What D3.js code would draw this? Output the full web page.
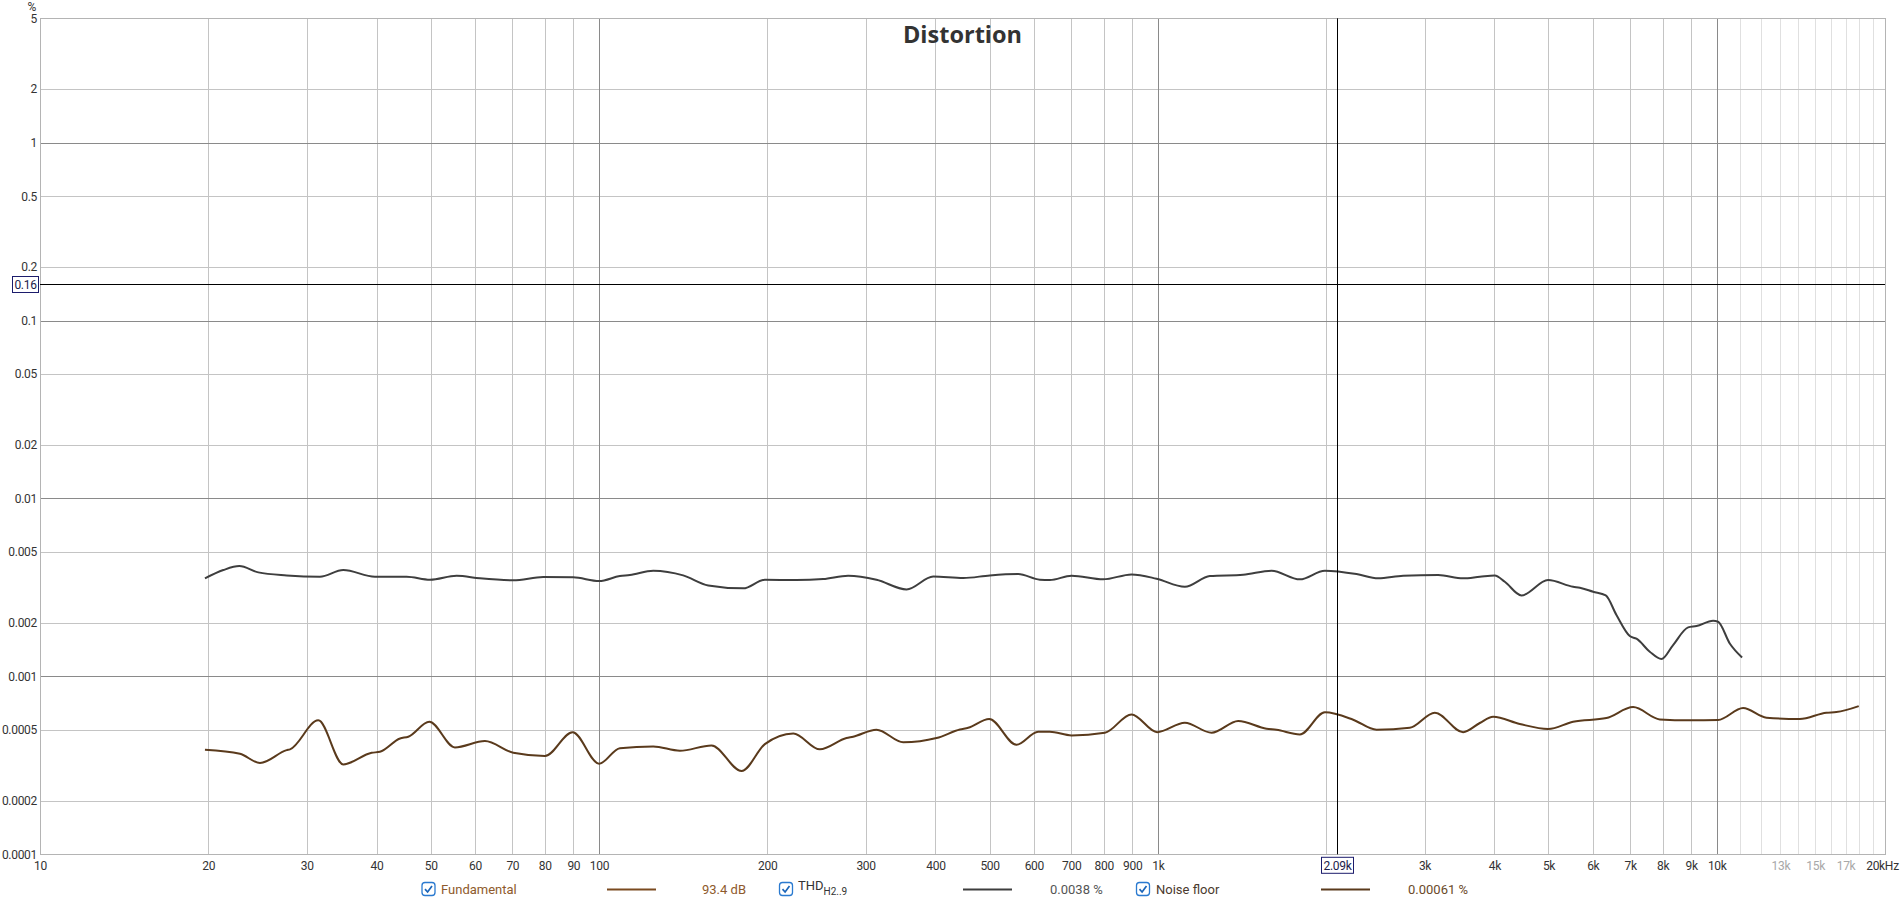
<!DOCTYPE html>
<html>
<head>
<meta charset="utf-8">
<script src="https://cdn.jsdelivr.net/npm/d3@7"></script>
<style>
  html, body { margin: 0; padding: 0; background: #ffffff; }
  svg { display: block; }
  .tick text { font-family: "Roboto", sans-serif; letter-spacing: -0.3px; }
</style>
</head>
<body>
<svg id="chart" width="1904" height="901"></svg>
<script>
// ---------------- DATA ----------------
const chartTitle = "Distortion";
const yUnit = "%";

const thdFreq = [19.73, 21.28, 22.73, 24.58, 27.63, 31.68, 34.88, 39.75, 45.29, 49.86, 55.64, 61.26, 70.27, 79.51, 89.97, 100.1,
  109.0, 113.6, 125.1, 141.5, 156.9, 181.2, 198.1, 225.7, 251.9, 279.2, 313.8, 355.2, 396.4, 448.6, 500.6, 562.5, 615.0,
  641, 700.9, 798.6, 897.2, 994.7, 1117.7, 1239.2, 1421.4, 1597.6, 1795.1, 1990.1, 2267.1, 2479.5, 2747.5, 3173.5, 3517.4, 3767.8,
  4007, 4176, 4472, 4991.5, 5533, 5689, 6010, 6330, 6615, 6988, 7184, 7589, 7963, 8354, 8888, 9199, 9850, 10055, 10551, 11100];
const thdVal = [0.003556, 0.003960, 0.004170, 0.003842, 0.003696, 0.003633, 0.003960, 0.003633, 0.003633, 0.003495, 0.003680, 0.003556, 0.003465, 0.003617, 0.003602, 0.003435,
  0.003665, 0.003711, 0.003926, 0.003696, 0.003247, 0.003124, 0.003495, 0.003479, 0.003525, 0.003680, 0.003495, 0.003083, 0.003640, 0.003570, 0.003696, 0.003759, 0.003495,
  0.003479, 0.003680, 0.003510, 0.003743, 0.003540, 0.003191, 0.003665, 0.003727, 0.003926, 0.003510, 0.003926, 0.003759, 0.003556, 0.003680, 0.003711, 0.003556, 0.003633,
  0.003696, 0.003405, 0.002852, 0.003479, 0.003191, 0.003151, 0.002992, 0.002852, 0.002212, 0.001685, 0.001628, 0.001376, 0.001251, 0.001500, 0.001885, 0.001918, 0.002055, 0.002029, 0.001532, 0.001278];

const noiseFreq = [19.73, 22.79, 24.75, 27.63, 28.01, 31.47, 34.88, 39.21, 40.57, 44.07, 45.60, 49.72, 55.25, 62.53, 70.27, 80.06, 89.72, 100.1,
  109.0, 125.1, 139.6, 159.0, 180.0, 198.1, 222.7, 248.5, 277.3, 285.0, 313.8, 350.4, 401.9, 442.5, 457.8, 499.2, 558.6, 610.8, 640.9,
  700.9, 804.1, 897.2, 997.3, 1117.7, 1247.8, 1392.4, 1565.1, 1630.4, 1795.1, 1990.1, 2236.2, 2462.5, 2824, 3130.2, 3517.4, 3767.8,
  3980, 4442, 4991.5, 5533, 6347, 7085, 7908, 8950, 10055, 11146, 12275, 14077, 15712, 16372, 17950];
const noiseVal = [0.000387, 0.000367, 0.000326, 0.000385, 0.000389, 0.000566, 0.000320, 0.000372, 0.000377, 0.000448, 0.000458, 0.000556, 0.000399, 0.000433, 0.000372, 0.000357, 0.000486, 0.000323,
  0.000395, 0.000404, 0.000382, 0.000409, 0.000294, 0.000416, 0.000478, 0.000389, 0.000450, 0.000458, 0.000501, 0.000426, 0.000450, 0.000503, 0.000514, 0.000576, 0.000413, 0.000489, 0.000489,
  0.000466, 0.000482, 0.000611, 0.000486, 0.000549, 0.000482, 0.000561, 0.000508, 0.000501, 0.000472, 0.000628, 0.000571, 0.000501, 0.000514, 0.000625, 0.000486, 0.000547,
  0.000593, 0.000540, 0.000506, 0.000556, 0.000583, 0.000672, 0.000573, 0.000566, 0.000568, 0.000664, 0.000586, 0.000576, 0.000625, 0.000630, 0.000681];

const yTickValues = [5, 2, 1, 0.5, 0.2, 0.1, 0.05, 0.02, 0.01, 0.005, 0.002, 0.001, 0.0005, 0.0002, 0.0001];
const yTickLabels = ["5", "2", "1", "0.5", "0.2", "0.1", "0.05", "0.02", "0.01", "0.005", "0.002", "0.001", "0.0005", "0.0002", "0.0001"];
const yMajor = [1, 0.1, 0.01, 0.001];

const xTickValues = [10, 20, 30, 40, 50, 60, 70, 80, 90, 100, 200, 300, 400, 500, 600, 700, 800, 900, 1000,
  3000, 4000, 5000, 6000, 7000, 8000, 9000, 10000, 13000, 15000, 17000, 20000];
const xTickLabels = ["10", "20", "30", "40", "50", "60", "70", "80", "90", "100", "200", "300", "400", "500", "600", "700", "800", "900", "1k",
  "3k", "4k", "5k", "6k", "7k", "8k", "9k", "10k", "13k", "15k", "17k", "20kHz"];
const xFaintLabels = [13000, 15000, 17000];
const xGridMain = [20, 30, 40, 50, 60, 70, 80, 90, 200, 300, 400, 500, 600, 700, 800, 900,
  2000, 3000, 4000, 5000, 6000, 7000, 8000, 9000];
const xGridFaint = [11000, 12000, 13000, 14000, 15000, 16000, 17000, 18000, 19000];
const xMajor = [100, 1000, 10000];

const cursorFreq = 2090, cursorFreqLabel = "2.09k";
const cursorVal = 0.16, cursorValLabel = "0.16";

const legendNames = ["Fundamental", "THD", "Noise floor"];
const legendValues = ["93.4 dB", "0.0038 %", "0.00061 %"];

// ---------------- LAYOUT ----------------
const L = 40, R = 1885, T = 18.3, B = 854.3;
const svg = d3.select("#chart");
const x = d3.scaleLog().domain([10, 20000]).range([L, R]);
const y = d3.scaleLog().domain([0.0001, 5]).range([B, T]);

const COL_MINOR = "#c4c4c4", COL_MAJOR = "#8a8a8a", COL_FAINT = "#e0e0e0";
const FONT = "Roboto, sans-serif";

// grid
const grid = svg.append("g");
grid.selectAll(".vf").data(xGridFaint).join("line")
  .attr("x1", d => Math.round(x(d)) + 0.5).attr("x2", d => Math.round(x(d)) + 0.5)
  .attr("y1", T).attr("y2", B).attr("stroke", COL_FAINT);
grid.selectAll(".vm").data(xGridMain).join("line")
  .attr("x1", d => Math.round(x(d)) + 0.5).attr("x2", d => Math.round(x(d)) + 0.5)
  .attr("y1", T).attr("y2", B).attr("stroke", COL_MINOR);
grid.selectAll(".hm").data(yTickValues.filter(v => !yMajor.includes(v))).join("line")
  .attr("x1", L).attr("x2", R)
  .attr("y1", d => Math.round(y(d)) + 0.5).attr("y2", d => Math.round(y(d)) + 0.5)
  .attr("stroke", COL_MINOR);
grid.selectAll(".hM").data(yMajor).join("line")
  .attr("x1", L).attr("x2", R)
  .attr("y1", d => Math.round(y(d)) + 0.5).attr("y2", d => Math.round(y(d)) + 0.5)
  .attr("stroke", COL_MAJOR);
grid.selectAll(".vM").data(xMajor).join("line")
  .attr("x1", d => Math.round(x(d)) + 0.5).attr("x2", d => Math.round(x(d)) + 0.5)
  .attr("y1", T).attr("y2", B).attr("stroke", COL_MAJOR);
// frame
grid.append("rect").attr("x", Math.round(L) + 0.5).attr("y", Math.round(T) + 0.5)
  .attr("width", Math.round(R) - Math.round(L)).attr("height", Math.round(B) - Math.round(T))
  .attr("fill", "none").attr("stroke", "#b4b4b4");

// axes
const xAxis = d3.axisBottom(x).tickValues(xTickValues)
  .tickFormat((d, i) => xTickLabels[i]).tickSize(0).tickPadding(7);
const gx = svg.append("g").attr("transform", `translate(0,${B})`).call(xAxis);
gx.select(".domain").remove();
gx.selectAll("text").attr("font-size", 12).attr("fill", d => xFaintLabels.includes(d) ? "#a8a8a8" : "#333")
  .attr("dx", d => d === 20000 ? -3 : 0);

const yAxis = d3.axisLeft(y).tickValues(yTickValues)
  .tickFormat((d, i) => yTickLabels[i]).tickSize(0).tickPadding(3);
const gy = svg.append("g").attr("transform", `translate(${L},0)`).call(yAxis);
gy.select(".domain").remove();
gy.selectAll("text").attr("font-size", 12).attr("fill", "#333");

svg.append("text").attr("x", 32).attr("y", 11).attr("text-anchor", "middle")
  .attr("font-family", FONT).attr("font-size", 12).attr("fill", "#333").text(yUnit);

// title
svg.append("text").attr("x", (L + R) / 2).attr("y", 43).attr("text-anchor", "middle")
  .attr("font-family", "'Open Sans', sans-serif").attr("font-weight", "bold")
  .attr("font-size", 23.5).attr("fill", "#333").text(chartTitle);

// curves
const line = d3.line().x(d => x(d[0])).y(d => y(d[1])).curve(d3.curveMonotoneX);
svg.append("path").datum(noiseFreq.map((f, i) => [f, noiseVal[i]]))
  .attr("d", line).attr("fill", "none").attr("stroke", "#5a3a1c").attr("stroke-width", 2).attr("stroke-linejoin", "round");
svg.append("path").datum(thdFreq.map((f, i) => [f, thdVal[i]]))
  .attr("d", line).attr("fill", "none").attr("stroke", "#3e3e3e").attr("stroke-width", 2).attr("stroke-linejoin", "round");

// cursors
const cx = Math.round(x(cursorFreq)) + 0.5, cy = Math.round(y(cursorVal)) + 0.5;
svg.append("line").attr("x1", cx).attr("x2", cx).attr("y1", T).attr("y2", B).attr("stroke", "#000");
svg.append("line").attr("x1", L).attr("x2", R).attr("y1", cy).attr("y2", cy).attr("stroke", "#000");
svg.append("rect").attr("x", 12.5).attr("y", cy - 8).attr("width", 26).attr("height", 16)
  .attr("fill", "#fff").attr("stroke", "#1c1c6c");
svg.append("text").attr("x", 25.5).attr("y", cy + 4.5).attr("text-anchor", "middle")
  .attr("font-family", FONT).attr("letter-spacing", -0.3).attr("font-size", 12).attr("fill", "#1c1c4c").text(cursorValLabel);
svg.append("rect").attr("x", cx - 16).attr("y", B + 3).attr("width", 32).attr("height", 16)
  .attr("fill", "#fff").attr("stroke", "#1c1c6c");
svg.append("text").attr("x", cx).attr("y", B + 15.5).attr("text-anchor", "middle")
  .attr("font-family", FONT).attr("letter-spacing", -0.3).attr("font-size", 12).attr("fill", "#1c1c4c").text(cursorFreqLabel);

// legend
const legY = 889;
const legendItems = [
  { box: 422, text: 441, nameCol: "#8e5a2c", l1: 607, l2: 656, lineCol: "#7a4a20", val: 702, valCol: "#8e5a2c" },
  { box: 779.5, text: 798, nameCol: "#333", l1: 963, l2: 1012, lineCol: "#3e3e3e", val: 1050, valCol: "#555" },
  { box: 1136.5, text: 1156, nameCol: "#4a3a2e", l1: 1321, l2: 1370, lineCol: "#5a3a1c", val: 1408, valCol: "#6b4a2a" }
];
const lg = svg.append("g");
legendItems.forEach((it, i) => {
  lg.append("rect").attr("x", it.box).attr("y", legY - 6.5).attr("width", 13).attr("height", 13)
    .attr("rx", 3).attr("fill", "#fff").attr("stroke", "#2a7ad0").attr("stroke-width", 1.3);
  lg.append("path").attr("d", `M${it.box + 3},${legY + 0.2} L${it.box + 5.6},${legY + 3} L${it.box + 10},${legY - 3}`)
    .attr("fill", "none").attr("stroke", "#1a64b8").attr("stroke-width", 1.7);
  const t = lg.append("text").attr("x", it.text).attr("y", legY + 5)
    .attr("font-family", FONT).attr("font-size", 13).attr("fill", it.nameCol);
  if (legendNames[i] === "THD") {
    t.attr("y", legY + 1).text(legendNames[i]);
    t.append("tspan").attr("dy", 5).attr("font-size", 10).text("H2..9");
  } else {
    t.text(legendNames[i]);
  }
  lg.append("line").attr("x1", it.l1).attr("x2", it.l2).attr("y1", legY + 0.5).attr("y2", legY + 0.5)
    .attr("stroke", it.lineCol).attr("stroke-width", 2);
  lg.append("text").attr("x", it.val).attr("y", legY + 5)
    .attr("font-family", FONT).attr("font-size", 13).attr("fill", it.valCol).text(legendValues[i]);
});
</script>
</body>
</html>
